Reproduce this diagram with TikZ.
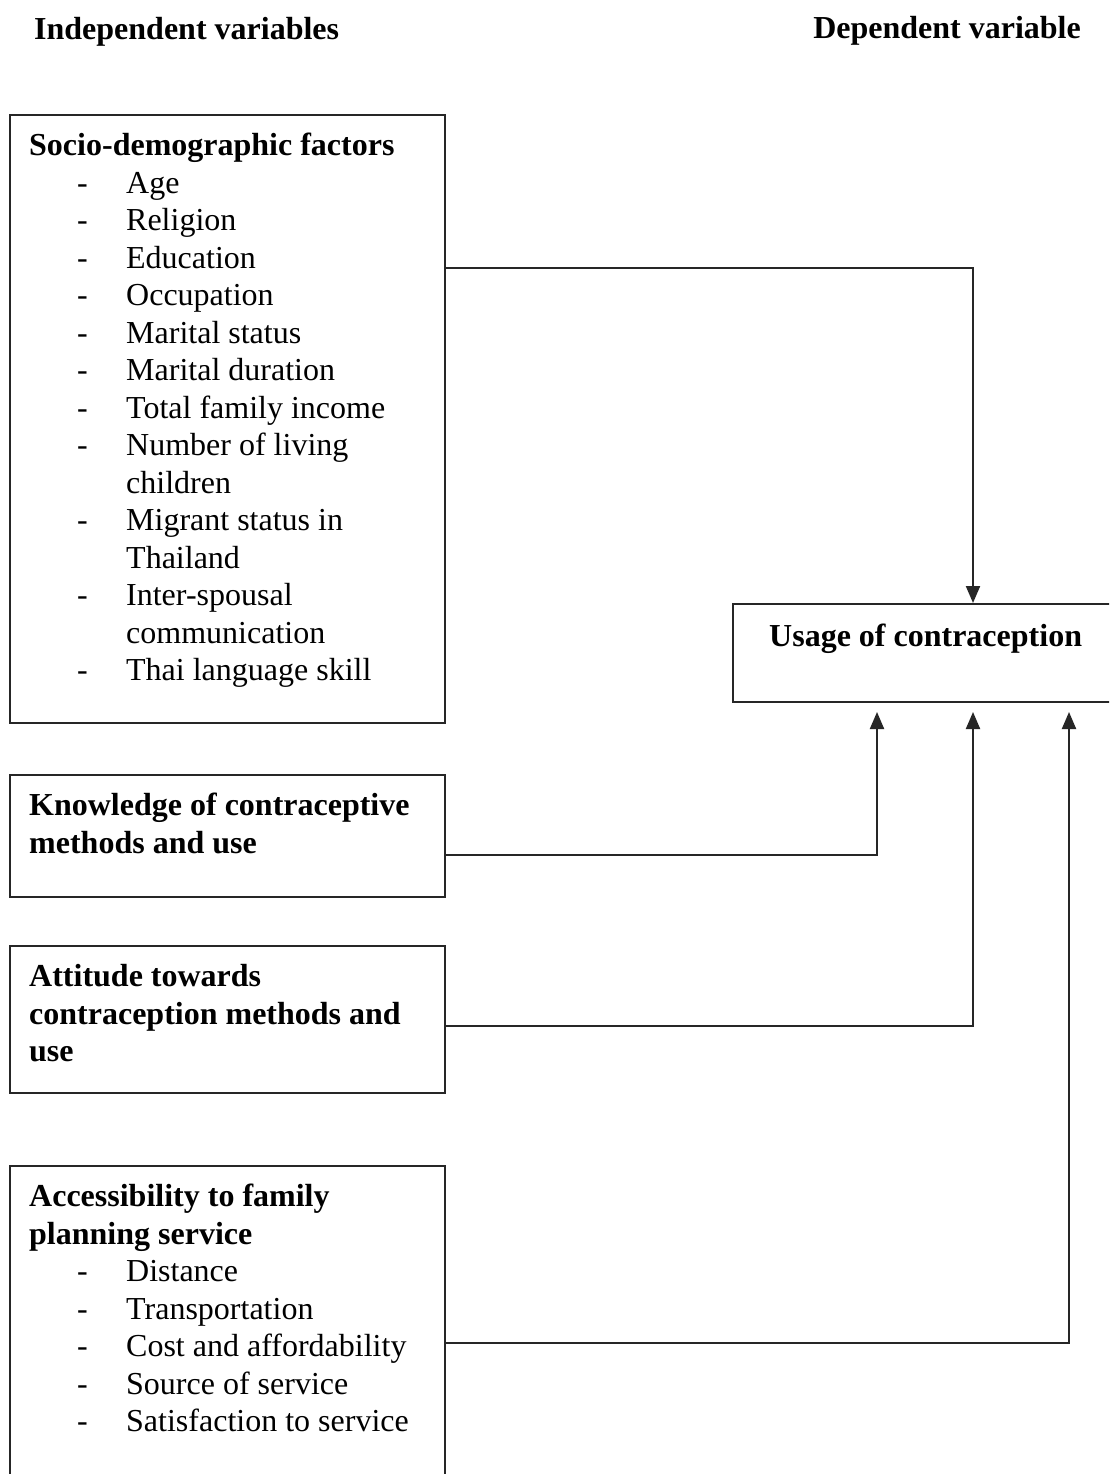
\documentclass[tikz,border=0pt]{standalone}
\usepackage{fontspec}
\setmainfont{Liberation Serif}
\usetikzlibrary{arrows.meta}
\newcommand\itemline[1]{\makebox[97pt][l]{\hspace{48pt}-}#1}
\newcommand\contline[1]{\hspace*{97pt}#1}
\tikzset{
  boxnode/.style={draw=black!85, line width=2pt, anchor=north west, inner sep=0pt, minimum width=435pt},
  txt/.style={anchor=north west, inner sep=0pt, align=left, font=\fontsize{32}{37.5}\selectfont},
  hdr/.style={inner sep=0pt, font=\fontsize{32}{37.5}\selectfont\bfseries},
  arr/.style={draw=black!85, line width=2pt, -{Triangle[length=17pt,width=14pt]}},
}
\begin{document}
\begin{tikzpicture}[x=1pt,y=-1pt]
\clip (0,0) rectangle (1109,1474);
\fill[white] (0,0) rectangle (1109,1474);

\node[hdr, anchor=base west] (indep) at (34,40) {Independent variables};
\node[hdr, anchor=base east] (dep) at (1081,39) {Dependent variable};

% boxes
\node[boxnode, minimum height=608pt] (b1) at (9,114) {};
\node[boxnode, minimum height=122pt] (b2) at (9,774) {};
\node[boxnode, minimum height=147pt] (b3) at (9,945) {};
\node[boxnode, minimum height=330pt] (b4) at (9,1165) {};
\node[boxnode, minimum width=400pt, minimum height=98pt] (usage) at (732,603) {};

% texts
\node[txt] (t1) at (29,129.4) {\strut\textbf{Socio-demographic factors}\\
\itemline{Age}\\
\itemline{Religion}\\
\itemline{Education}\\
\itemline{Occupation}\\
\itemline{Marital status}\\
\itemline{Marital duration}\\
\itemline{Total family income}\\
\itemline{Number of living}\\
\contline{children}\\
\itemline{Migrant status in}\\
\contline{Thailand}\\
\itemline{Inter-spousal}\\
\contline{communication}\\
\itemline{Thai language skill}};

\node[txt] (t2) at (29,789.4) {\strut\textbf{Knowledge of contraceptive}\\
\textbf{methods and use}};

\node[txt] (t3) at (29,960.4) {\strut\textbf{Attitude towards}\\
\textbf{contraception methods and}\\
\textbf{use}};

\node[txt] (t4) at (29,1180.4) {\strut\textbf{Accessibility to family}\\
\textbf{planning service}\\
\itemline{Distance}\\
\itemline{Transportation}\\
\itemline{Cost and affordability}\\
\itemline{Source of service}\\
\itemline{Satisfaction to service}};

\node[txt] (tu) at (769,620) {\strut\textbf{Usage of contraception}};

% lanes
\coordinate (l1) at (973,268);
\coordinate (l2) at (877,855);
\coordinate (l3) at (973,1026);
\coordinate (l4) at (1069,1343);

\draw[arr] (b1.east |- l1) -| (usage.north -| l1);
\draw[arr, shorten >=9pt] (b2.east |- l2) -| (usage.south -| l2);
\draw[arr, shorten >=9pt] (b3.east |- l3) -| (usage.south -| l3);
\draw[arr, shorten >=9pt] (b4.east |- l4) -| (usage.south -| l4);
\end{tikzpicture}
\end{document}
